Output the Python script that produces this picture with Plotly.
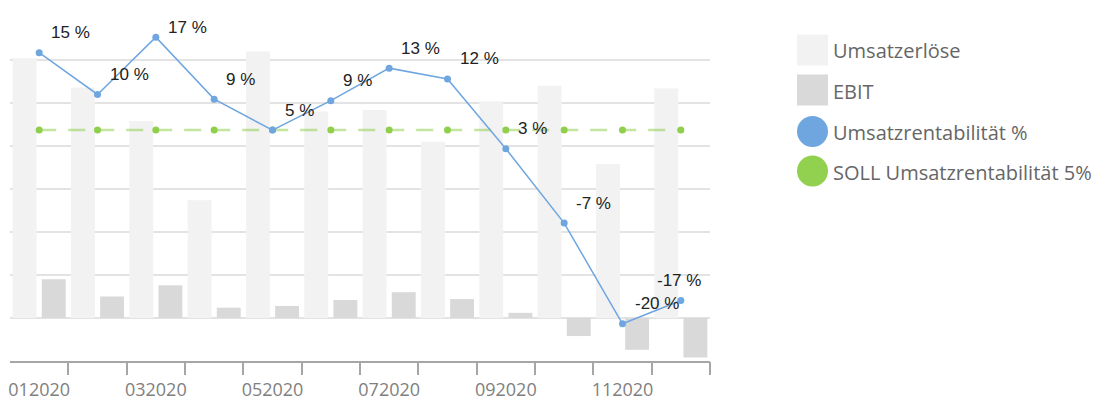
import plotly.graph_objects as go

# ---- data ----
categories = ["012020", "022020", "032020", "042020", "052020", "062020",
              "072020", "082020", "092020", "102020", "112020", "122020"]
umsatz = [302, 268, 229, 137, 310, 240, 242, 205, 252, 270, 179, 267]
ebit = [45, 25, 38, 12, 14, 21, 30, 22, 6, -21, -37, -46]
rentabilitaet = [15, 9.6, 17, 9, 5, 8.8, 13, 11.6, 2.6, -7, -20, -17]
soll = [5, 5, 5, 5, 5, 5, 5, 5, 5, 5, 5, 5]
tick_labels = [c if i % 2 == 0 else "" for i, c in enumerate(categories)]

# ---- layout constants ----
W, H = 1099, 401
ML, MR, MT, MB = 10, 389, 17, 40
PW, PH = W - ML - MR, H - MT - MB
Y1_RANGE = [-50, 350]
Y2_RANGE = [-24.8, 19.6]
n = len(categories)
X_RANGE = [-0.5, n - 0.5]

C_UMSATZ = "#f2f2f2"
C_EBIT = "#d9d9d9"
C_BLUE = "#6fa6e0"
C_GREEN = "#8fcf4c"
C_AXIS = "#a6a6a6"

fig = go.Figure()
fig.add_trace(go.Bar(x=categories, y=umsatz, name="Umsatzerlöse",
                     marker=dict(color=C_UMSATZ, line=dict(width=0)), yaxis="y"))
fig.add_trace(go.Bar(x=categories, y=ebit, name="EBIT",
                     marker=dict(color=C_EBIT, line=dict(width=0)), yaxis="y"))
fig.add_trace(go.Scatter(x=categories, y=soll, name="SOLL Umsatzrentabilität 5%",
                         mode="lines+markers", yaxis="y2",
                         line=dict(color="rgba(146,208,80,0.55)", width=2.5, dash="17px,12px"),
                         marker=dict(color=C_GREEN, size=7)))
fig.add_trace(go.Scatter(x=categories, y=rentabilitaet, name="Umsatzrentabilität %",
                         mode="lines+markers", yaxis="y2",
                         line=dict(color=C_BLUE, width=1.5),
                         marker=dict(color=C_BLUE, size=7)))
# empty helper trace so the boundary-tick axis is drawn
fig.add_trace(go.Scatter(x=[], y=[], xaxis="x2", yaxis="y", showlegend=False, hoverinfo="skip"))

# value labels (x given as category index: numeric-looking category strings
# would otherwise be parsed as numbers by annotations)
annotations = []
for i, v in enumerate(rentabilitaet):
    py = MT + (Y2_RANGE[1] - v) / (Y2_RANGE[1] - Y2_RANGE[0]) * PH
    center = max(py - 20, MT + 11)
    yshift = py - center
    if i == n - 1:
        xanchor, xshift = "center", -2
    else:
        xanchor, xshift = "left", 10
    annotations.append(dict(x=i, y=v, xref="x", yref="y2", text=f"{round(v)} %",
                            showarrow=False, xanchor=xanchor, yanchor="middle",
                            xshift=xshift, yshift=yshift,
                            font=dict(family="Liberation Sans, Arial", size=17, color="#222222")))

# manual legend
def px_x(p):
    return (p - ML) / PW

def px_y(p):
    return (H - MB - p) / PH

legend_items = [("Umsatzerlöse", C_UMSATZ, "rect"), ("EBIT", C_EBIT, "rect"),
                ("Umsatzrentabilität %", C_BLUE, "circle"),
                ("SOLL Umsatzrentabilität 5%", "#92d050", "circle")]
legend_centers = [50, 90, 131.5, 171]
shapes = []
for (label, col, kind), cy in zip(legend_items, legend_centers):
    shapes.append(dict(type=kind, xref="paper", yref="paper",
                       x0=px_x(797), x1=px_x(828), y0=px_y(cy - 15.5), y1=px_y(cy + 15.5),
                       fillcolor=col, line=dict(width=0), layer="above"))
    annotations.append(dict(x=px_x(831), y=px_y(cy + 1), xref="paper", yref="paper",
                            text=label, showarrow=False, xanchor="left", yanchor="middle",
                            font=dict(family="Open Sans", size=20, color="#666666")))

fig.update_layout(
    width=W, height=H,
    margin=dict(l=ML, r=MR, t=MT, b=MB),
    paper_bgcolor="white", plot_bgcolor="white",
    barmode="group", bargap=0, bargroupgap=0.18,
    showlegend=False,
    xaxis=dict(type="category", range=X_RANGE, autorange=False,
               tickmode="array", tickvals=categories, ticktext=tick_labels,
               ticks="", showline=True, linecolor=C_AXIS, linewidth=2,
               showgrid=False, ticklabelstandoff=11, tickangle=0, automargin=False,
               tickfont=dict(family="Open Sans", size=18, color="#7f7f7f")),
    xaxis2=dict(overlaying="x", anchor="y", side="bottom", range=X_RANGE, autorange=False,
                tickmode="array", tickvals=[i + 0.5 for i in range(n)],
                ticks="outside", ticklen=13, tickwidth=2, tickcolor=C_AXIS,
                showticklabels=False, showline=False, showgrid=False, zeroline=False),
    yaxis=dict(range=Y1_RANGE, dtick=50, tick0=0, showticklabels=False, showgrid=True,
               gridcolor="#e3e3e3", gridwidth=2, zeroline=False, ticks=""),
    yaxis2=dict(range=Y2_RANGE, overlaying="y", side="right", visible=False,
                showgrid=False, zeroline=False),
    annotations=annotations,
    shapes=shapes,
)

fig.write_html("out.html", config={"displayModeBar": False})
